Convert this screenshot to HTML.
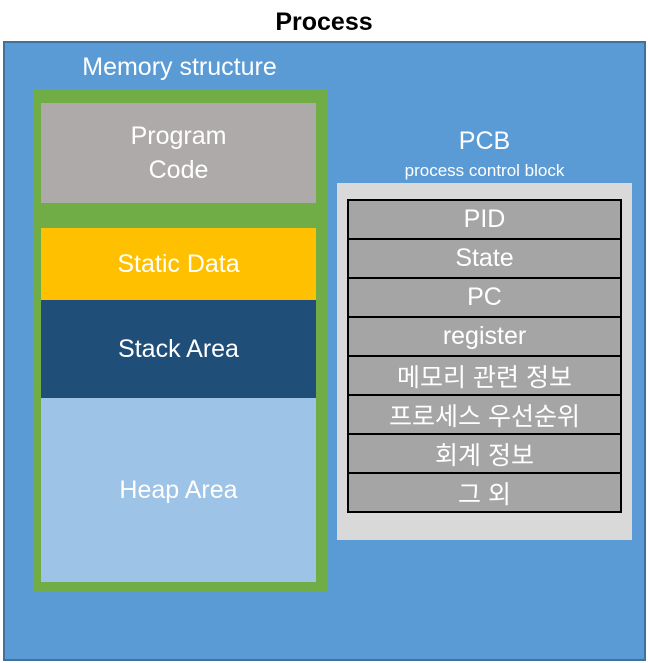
<!DOCTYPE html>
<html><head><meta charset="utf-8"><style>
body{margin:0;width:648px;height:663px;background:#fff;position:relative;overflow:hidden;font-family:"Liberation Sans","Noto Sans CJK KR",sans-serif;}
div{position:absolute;box-sizing:border-box;}
.c{display:flex;align-items:center;justify-content:center;text-align:center;color:#fff;}
.row{left:347px;width:275px;height:41px;border:2px solid #000;background:#A5A5A5;font-size:25px;color:#fff;}
</style></head><body>
<div class="c" style="left:0;top:4px;width:648px;height:36px;color:#000;font-weight:bold;font-size:25px;">Process</div>
<div style="left:3px;top:41px;width:643px;height:620px;background:#5B9BD5;border:2px solid #41719C;"></div>
<div class="c" style="left:33px;top:48px;width:293px;height:38px;font-size:25px;">Memory structure</div>
<div style="left:33px;top:89px;width:294px;height:503px;background:#70AD47;"></div>
<div class="c" style="left:41px;top:103px;width:275px;height:100px;background:#AEAAAA;font-size:25px;line-height:34px;">Program<br>Code</div>
<div class="c" style="left:41px;top:228px;width:275px;height:72px;background:#FFC000;font-size:25px;">Static Data</div>
<div class="c" style="left:41px;top:300px;width:275px;height:98px;background:#1F4E79;font-size:25px;">Stack Area</div>
<div class="c" style="left:41px;top:398px;width:275px;height:184px;background:#9DC3E6;font-size:25px;">Heap Area</div>
<div class="c" style="left:337px;top:124px;width:295px;height:34px;font-size:25px;">PCB</div>
<div class="c" style="left:337px;top:160px;width:295px;height:22px;font-size:17px;">process control block</div>
<div style="left:337px;top:183px;width:295px;height:357px;background:#D9D9D9;"></div>
<div class="row c" style="top:199px;">PID</div>
<div class="row c" style="top:238px;">State</div>
<div class="row c" style="top:277px;">PC</div>
<div class="row c" style="top:316px;">register</div>
<div class="row c" style="top:355px;">메모리 관련 정보</div>
<div class="row c" style="top:394px;">프로세스 우선순위</div>
<div class="row c" style="top:433px;">회계 정보</div>
<div class="row c" style="top:472px;">그 외</div>
</body></html>
